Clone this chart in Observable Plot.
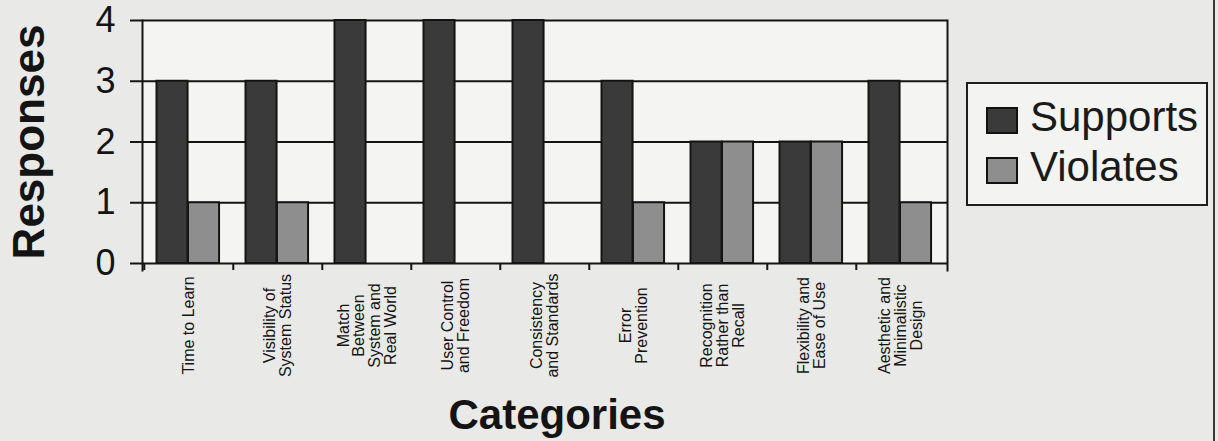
<!DOCTYPE html>
<html><head><meta charset="utf-8">
<script src="https://cdn.jsdelivr.net/npm/d3@7"></script>
<script src="https://cdn.jsdelivr.net/npm/@observablehq/plot@0.6"></script>
<style>
html,body{margin:0;padding:0;background:#e9e9e7;}
#wrap{position:relative;width:1218px;height:441px;overflow:hidden;font-family:"Liberation Sans",Arial,Helvetica,sans-serif;}
#wrap svg{position:absolute;left:0;top:0;}
#edge{position:absolute;left:1213px;top:0;width:2px;height:441px;background:#3a3a3a;}
#legend{position:absolute;left:966px;top:82px;width:238px;height:120px;border:2px solid #1e1e1e;background:#f3f3f1;}
.sw{position:absolute;left:18px;width:28px;height:23px;border:2px solid #111;}
.lt{position:absolute;left:62px;font-size:42px;line-height:42px;color:#1a1a1a;white-space:nowrap;}
</style></head><body><div id="wrap"></div>
<script>
const categories = ["Time to Learn","Visibility of System Status","Match Between System and Real World","User Control and Freedom","Consistency and Standards","Error Prevention","Recognition Rather than Recall","Flexibility and Ease of Use","Aesthetic and Minimalistic Design"];
const tickLabels = ["Time to Learn","Visibility of\nSystem Status","Match\nBetween\nSystem and\nReal World","User Control\nand Freedom","Consistency\nand Standards","Error\nPrevention","Recognition\nRather than\nRecall","Flexibility and\nEase of Use","Aesthetic and\nMinimalistic\nDesign"];
const seriesNames = ["Supports","Violates"];
const seriesColors = ["#3a3a3a","#8e8e8e"];
const supports = [3,3,4,4,4,3,2,2,3];
const violates = [1,1,0,0,0,1,2,2,1];
const yTicks = [0,1,2,3,4];

const W=1218,H=441,ML=142,MR=271,MT=20,MB=178;
const step=(W-ML-MR)/categories.length;
const barW=31.5, lead=12.5;
const rows = categories.flatMap((c,i)=>[
  {category:c, series:seriesNames[0], value:supports[i]},
  {category:c, series:seriesNames[1], value:violates[i]}
]);
const ink="#141414";
const plot = Plot.plot({
  width:W,height:H,marginLeft:ML,marginRight:MR,marginTop:MT,marginBottom:MB,
  style:{background:"transparent", fontFamily:"'Liberation Sans',Arial,Helvetica,sans-serif", color:ink},
  x:{domain:categories, padding:0},
  y:{domain:[0,4]},
  color:{domain:seriesNames, range:seriesColors},
  marks:[
    Plot.frame({fill:"#f4f4f2", stroke:null}),
    Plot.gridY({ticks:yTicks, stroke:ink, strokeOpacity:1, strokeWidth:2}),
    Plot.barY(rows.filter(d=>d.series===seriesNames[0]&&d.value>0), {x:"category", y:"value", fill:"series", stroke:ink, strokeWidth:2, insetLeft:lead, insetRight:step-lead-barW}),
    Plot.barY(rows.filter(d=>d.series===seriesNames[1]&&d.value>0), {x:"category", y:"value", fill:"series", stroke:ink, strokeWidth:2, insetLeft:lead+barW, insetRight:step-lead-2*barW}),
    Plot.frame({anchor:"left", stroke:ink, strokeWidth:2, insetBottom:-7}),
    Plot.frame({anchor:"right", stroke:ink, strokeWidth:2, insetBottom:-7}),
    Plot.axisY({ticks:yTicks, tickSize:12, tickPadding:15, fontSize:36, strokeWidth:2, label:null, tickFormat:d=>String(d)}),
    Plot.axisX({tickSize:7, dx:-step/2, tickFormat:()=>"", label:null, strokeWidth:2}),
    Plot.text(categories, {x:d=>d, text:(d,i)=>tickLabels[i], frameAnchor:"bottom", rotate:-90, textAnchor:"middle", lineAnchor:"middle", dy:62, fontSize:16, lineHeight:0.98, fill:ink}),
    Plot.text(["Responses"], {frameAnchor:"left", dx:-113, rotate:-90, textAnchor:"middle", lineAnchor:"middle", fontSize:44, fontWeight:"bold", fill:ink}),
    Plot.text(["Categories"], {frameAnchor:"bottom", dx:12, dy:152, textAnchor:"middle", lineAnchor:"middle", fontSize:42, fontWeight:"bold", fill:ink})
  ]
});
const wrap=document.getElementById("wrap");
wrap.appendChild(plot);
const edge=document.createElement("div"); edge.id="edge"; wrap.appendChild(edge);
const leg=document.createElement("div"); leg.id="legend";
const swTops=[23,73], txtTops=[12,62];
seriesNames.forEach((s,i)=>{
  const sw=document.createElement("div"); sw.className="sw"; sw.style.top=swTops[i]+"px"; sw.style.background=seriesColors[i];
  const t=document.createElement("div"); t.className="lt"; t.style.top=txtTops[i]+"px"; t.textContent=s;
  leg.appendChild(sw); leg.appendChild(t);
});
wrap.appendChild(leg);
</script>
</body></html>
